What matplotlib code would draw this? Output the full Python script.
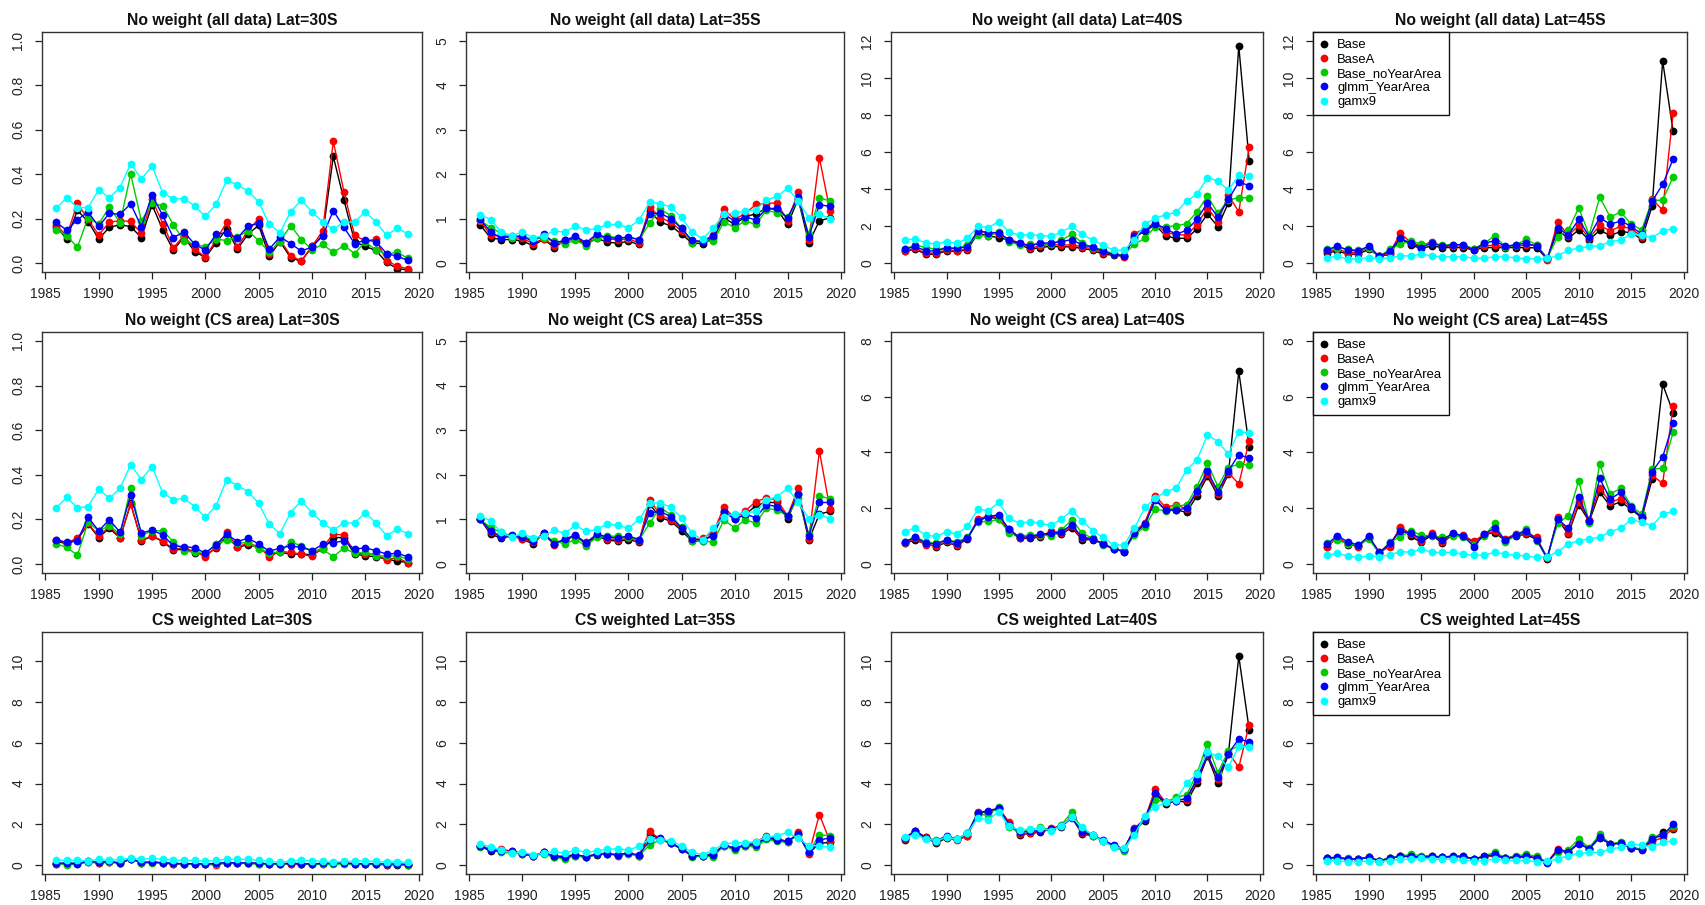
import matplotlib
matplotlib.use("Agg")
import matplotlib.pyplot as plt
from matplotlib.lines import Line2D

plt.rcParams['font.family'] = ['Liberation Sans', 'DejaVu Sans']

years = list(range(1986, 2020))
series_names = ["Base", "BaseA", "Base_noYearArea", "glmm_YearArea", "gamx9"]
series_colors = ["#000000", "#FF0000", "#00CD00", "#0000FF", "#00FFFF"]

# ---------------- Row 1: No weight (all data) ----------------
all30_base = [0.164,0.109,0.237,0.187,0.109,0.161,0.173,0.164,0.115,0.262,0.151,0.058,0.118,0.052,0.025,0.090,0.155,0.063,0.130,0.170,0.031,0.097,0.024,0.008,0.075,0.125,0.480,0.284,0.097,0.075,0.057,0.003,-0.025,-0.030]
all30_baseA = [0.172,0.122,0.269,0.197,0.127,0.185,0.190,0.188,0.134,0.287,0.178,0.069,0.124,0.063,0.028,0.103,0.184,0.073,0.145,0.200,0.040,0.106,0.033,0.010,0.075,0.145,0.548,0.321,0.125,0.100,0.107,0.009,-0.012,-0.027]
all30_noYA = [0.151,0.122,0.072,0.204,0.176,0.252,0.182,0.400,0.190,0.269,0.258,0.173,0.100,0.085,0.073,0.109,0.101,0.118,0.145,0.101,0.049,0.097,0.169,0.106,0.061,0.084,0.048,0.079,0.043,0.097,0.058,0.040,0.049,0.021]
all30_glmm = [0.184,0.148,0.195,0.230,0.165,0.224,0.220,0.267,0.163,0.306,0.215,0.115,0.140,0.085,0.058,0.130,0.137,0.112,0.167,0.179,0.063,0.118,0.088,0.054,0.073,0.122,0.236,0.161,0.088,0.104,0.097,0.043,0.031,0.012]
all30_gam = [0.246,0.294,0.250,0.250,0.330,0.294,0.340,0.448,0.378,0.437,0.316,0.290,0.290,0.257,0.210,0.264,0.373,0.352,0.325,0.275,0.175,0.137,0.231,0.284,0.231,0.185,0.152,0.185,0.185,0.231,0.185,0.125,0.157,0.131]

all35_base = [0.86,0.57,0.53,0.53,0.50,0.39,0.54,0.35,0.51,0.54,0.43,0.56,0.47,0.45,0.49,0.42,1.17,0.92,0.84,0.65,0.45,0.44,0.56,1.02,0.87,1.04,1.11,1.23,1.21,0.87,1.44,0.46,0.95,1.02]
all35_baseA = [0.95,0.63,0.60,0.57,0.56,0.44,0.55,0.39,0.52,0.57,0.45,0.63,0.54,0.53,0.54,0.46,1.27,1.02,0.92,0.72,0.49,0.50,0.63,1.21,0.99,1.11,1.32,1.34,1.36,0.95,1.60,0.51,2.37,1.17]
all35_noYA = [0.96,0.80,0.67,0.57,0.60,0.54,0.57,0.49,0.42,0.52,0.39,0.57,0.61,0.57,0.57,0.53,0.90,1.21,1.07,0.78,0.46,0.50,0.49,0.93,0.80,0.95,0.87,1.19,1.13,1.04,1.42,0.65,1.47,1.40]
all35_glmm = [0.99,0.70,0.57,0.61,0.60,0.49,0.65,0.46,0.51,0.61,0.46,0.65,0.57,0.56,0.59,0.53,1.11,1.12,1.00,0.78,0.51,0.48,0.60,1.10,0.95,1.04,0.97,1.23,1.23,1.02,1.49,0.59,1.31,1.28]
all35_gam = [1.09,0.98,0.70,0.62,0.70,0.57,0.61,0.73,0.69,0.84,0.74,0.78,0.87,0.87,0.79,0.97,1.37,1.34,1.26,1.03,0.69,0.55,0.79,1.10,1.13,1.17,1.20,1.42,1.50,1.68,1.40,1.02,1.10,1.00]

all40_base = [0.63,0.75,0.48,0.48,0.66,0.63,0.72,1.61,1.47,1.38,1.24,1.02,0.75,0.84,0.91,0.88,0.88,0.79,0.70,0.48,0.43,0.38,1.38,1.74,2.06,1.47,1.34,1.34,1.85,2.65,1.97,3.26,11.72,5.50]
all40_baseA = [0.65,0.79,0.54,0.54,0.72,0.68,0.75,1.77,1.61,1.56,1.27,1.11,0.81,0.93,1.02,0.97,0.99,0.88,0.77,0.56,0.48,0.34,1.58,1.88,2.17,1.65,1.56,1.50,2.08,2.99,2.24,3.67,2.78,6.27]
all40_noYA = [0.75,0.99,0.84,0.75,0.82,0.81,0.97,1.50,1.47,1.70,1.15,0.97,1.04,1.04,1.02,1.24,1.56,1.09,0.84,0.73,0.48,0.45,1.02,1.34,1.97,1.97,2.01,2.13,2.78,3.62,2.69,3.41,3.53,3.53]
all40_glmm = [0.75,0.90,0.66,0.66,0.82,0.79,0.88,1.74,1.65,1.65,1.24,1.08,0.93,1.08,1.09,1.16,1.27,0.97,0.88,0.63,0.48,0.39,1.47,1.77,2.13,1.86,1.56,1.77,2.37,3.24,2.49,3.44,4.37,4.19]
all40_gam = [1.24,1.31,1.09,1.04,1.16,1.08,1.34,1.99,1.92,2.24,1.68,1.50,1.54,1.49,1.45,1.67,1.99,1.56,1.24,0.97,0.70,0.70,1.25,2.10,2.42,2.62,2.74,3.35,3.73,4.62,4.43,3.94,4.75,4.68]

all45_base = [0.54,0.66,0.48,0.48,0.75,0.36,0.48,1.34,0.97,0.79,0.93,0.84,0.84,0.84,0.70,0.84,0.84,0.84,0.84,0.84,0.82,0.21,1.79,1.34,1.79,1.25,1.77,1.50,1.70,1.65,1.29,3.08,10.91,7.11]
all45_baseA = [0.63,0.75,0.57,0.57,0.84,0.36,0.56,1.61,1.11,0.93,1.16,0.90,0.93,0.93,0.75,0.93,0.97,0.88,0.93,0.97,0.97,0.16,2.24,1.47,2.04,1.34,2.04,1.74,1.99,1.86,1.43,3.47,2.85,8.10]
all45_noYA = [0.75,0.82,0.75,0.70,0.82,0.36,0.75,1.02,1.20,1.02,1.06,0.97,0.99,0.99,0.77,1.08,1.47,0.88,0.97,1.29,0.97,0.27,1.42,1.77,2.99,1.52,3.56,2.49,2.76,2.10,1.79,3.39,3.40,4.66]
all45_glmm = [0.70,0.93,0.70,0.66,0.93,0.36,0.66,1.33,1.08,0.84,1.08,0.90,1.00,1.00,0.70,1.08,1.20,0.90,1.00,1.08,0.90,0.25,1.92,1.50,2.36,1.43,2.45,2.10,2.27,1.99,1.56,3.35,4.25,5.62]
all45_gam = [0.30,0.36,0.23,0.23,0.30,0.23,0.30,0.39,0.39,0.48,0.39,0.34,0.34,0.34,0.27,0.27,0.34,0.34,0.29,0.23,0.23,0.25,0.39,0.70,0.81,0.90,0.93,1.16,1.25,1.56,1.50,1.38,1.74,1.86]

# ---------------- Row 2: No weight (CS area) ----------------
cs30_base = [0.104,0.090,0.110,0.179,0.119,0.161,0.116,0.272,0.104,0.125,0.101,0.063,0.067,0.051,0.042,0.070,0.124,0.075,0.087,0.075,0.042,0.052,0.045,0.045,0.042,0.067,0.119,0.119,0.045,0.037,0.033,0.022,0.013,0.007]
cs30_baseA = [0.107,0.096,0.116,0.182,0.124,0.169,0.119,0.269,0.107,0.127,0.104,0.067,0.072,0.057,0.033,0.075,0.142,0.078,0.093,0.078,0.033,0.057,0.052,0.045,0.034,0.075,0.134,0.131,0.052,0.045,0.045,0.018,0.030,0.004]
cs30_noYA = [0.090,0.075,0.040,0.187,0.149,0.172,0.134,0.342,0.127,0.149,0.149,0.101,0.060,0.052,0.048,0.090,0.107,0.093,0.097,0.066,0.051,0.054,0.100,0.081,0.060,0.067,0.033,0.072,0.048,0.052,0.037,0.036,0.037,0.022]
cs30_glmm = [0.110,0.097,0.104,0.209,0.149,0.199,0.142,0.310,0.139,0.152,0.131,0.082,0.078,0.073,0.049,0.087,0.134,0.101,0.116,0.090,0.057,0.072,0.081,0.075,0.060,0.088,0.096,0.104,0.067,0.073,0.060,0.045,0.048,0.033]
cs30_gam = [0.251,0.299,0.251,0.258,0.336,0.294,0.340,0.446,0.379,0.437,0.319,0.288,0.294,0.258,0.209,0.261,0.379,0.352,0.325,0.273,0.178,0.137,0.231,0.284,0.231,0.184,0.152,0.184,0.184,0.230,0.184,0.127,0.157,0.136]

cs35_base = [1.01,0.67,0.58,0.63,0.56,0.45,0.69,0.46,0.54,0.63,0.45,0.63,0.54,0.51,0.55,0.49,1.34,1.04,0.96,0.75,0.51,0.52,0.67,1.19,1.01,1.10,1.31,1.38,1.38,1.01,1.57,0.54,1.12,1.18]
cs35_baseA = [1.01,0.71,0.61,0.62,0.57,0.49,0.67,0.43,0.56,0.63,0.49,0.65,0.57,0.54,0.58,0.51,1.44,1.10,0.99,0.80,0.54,0.58,0.72,1.27,1.04,1.19,1.40,1.48,1.44,1.08,1.70,0.56,2.53,1.23]
cs35_noYA = [1.00,0.82,0.71,0.63,0.63,0.54,0.63,0.52,0.45,0.55,0.41,0.60,0.63,0.62,0.60,0.54,0.92,1.27,1.10,0.82,0.51,0.52,0.49,0.99,0.81,0.99,0.92,1.25,1.21,1.08,1.48,0.67,1.53,1.46]
cs35_glmm = [1.01,0.75,0.61,0.65,0.60,0.51,0.69,0.46,0.56,0.65,0.47,0.67,0.61,0.58,0.63,0.55,1.15,1.18,1.06,0.81,0.56,0.54,0.63,1.17,1.01,1.12,1.04,1.33,1.29,1.08,1.58,0.63,1.38,1.38]
cs35_gam = [1.08,0.97,0.71,0.60,0.69,0.58,0.63,0.76,0.69,0.87,0.73,0.78,0.90,0.87,0.80,1.00,1.37,1.37,1.27,1.03,0.69,0.54,0.81,1.06,1.13,1.14,1.18,1.44,1.51,1.70,1.38,1.02,1.11,1.02]

cs40_base = [0.75,0.86,0.72,0.63,0.78,0.66,0.90,1.55,1.70,1.61,1.19,0.92,0.92,0.98,1.11,1.07,1.31,0.87,0.88,0.72,0.54,0.45,1.11,1.41,2.33,1.93,1.95,1.85,2.45,3.14,2.45,3.22,6.91,4.21]
cs40_baseA = [0.76,0.92,0.68,0.66,0.81,0.68,0.93,1.61,1.73,1.67,1.27,0.93,0.96,1.00,1.17,1.11,1.35,0.92,0.90,0.74,0.56,0.48,1.17,1.49,2.45,2.03,2.13,1.97,2.57,3.22,2.53,3.28,2.87,4.42]
cs40_noYA = [0.80,0.98,0.80,0.74,0.87,0.80,0.96,1.52,1.53,1.60,1.13,1.01,1.04,1.04,1.01,1.22,1.59,1.11,0.92,0.69,0.54,0.48,1.04,1.34,1.97,1.91,2.07,2.13,2.78,3.62,2.78,3.46,3.58,3.55]
cs40_glmm = [0.79,0.96,0.75,0.72,0.87,0.75,0.93,1.55,1.70,1.77,1.24,0.96,0.98,1.07,1.11,1.16,1.41,0.96,0.91,0.72,0.54,0.45,1.13,1.43,2.29,1.93,1.93,2.01,2.63,3.32,2.60,3.34,3.92,3.80]
cs40_gam = [1.16,1.29,1.04,0.99,1.16,1.07,1.36,1.97,1.91,2.21,1.64,1.46,1.52,1.46,1.39,1.61,1.91,1.55,1.19,0.96,0.68,0.68,1.28,2.03,2.36,2.60,2.72,3.37,3.74,4.63,4.39,3.94,4.75,4.70]

cs45_base = [0.62,0.96,0.69,0.66,0.93,0.39,0.69,1.28,0.99,0.78,1.04,0.75,1.07,1.01,0.78,1.06,1.13,0.84,1.01,1.07,0.87,0.18,1.61,1.07,2.13,1.53,2.57,2.09,2.23,1.97,1.65,3.04,6.45,5.43]
cs45_baseA = [0.60,0.96,0.72,0.62,0.96,0.42,0.63,1.34,1.07,0.84,1.11,0.80,1.07,1.04,0.81,1.07,1.17,0.90,1.09,1.13,0.96,0.20,1.67,1.13,2.21,1.59,2.72,2.21,2.35,2.03,1.67,3.19,2.89,5.67]
cs45_noYA = [0.75,0.86,0.72,0.68,0.90,0.39,0.78,0.98,1.19,1.04,1.01,0.96,1.01,0.98,0.69,1.01,1.46,0.78,1.04,1.25,0.84,0.24,1.46,1.73,2.99,1.49,3.58,2.51,2.72,2.09,1.79,3.40,3.44,4.72]
cs45_glmm = [0.72,1.01,0.80,0.68,1.00,0.42,0.74,1.19,1.11,0.90,1.04,0.86,1.11,1.01,0.63,1.07,1.29,0.87,1.05,1.19,0.87,0.24,1.61,1.29,2.39,1.55,3.07,2.33,2.57,2.03,1.67,3.31,3.84,5.05]
cs45_gam = [0.32,0.38,0.29,0.24,0.29,0.27,0.33,0.45,0.42,0.54,0.42,0.42,0.42,0.36,0.32,0.32,0.42,0.36,0.32,0.29,0.24,0.26,0.45,0.72,0.84,0.90,0.96,1.16,1.29,1.59,1.50,1.37,1.79,1.89]

# ---------------- Row 3: CS weighted ----------------
csw30_base = [0.05,0.08,0.08,0.15,0.10,0.14,0.10,0.30,0.12,0.13,0.10,0.05,0.06,0.05,0.03,0.04,0.10,0.08,0.09,0.07,0.04,0.06,0.05,0.05,0.04,0.07,0.08,0.08,0.05,0.04,0.03,0.02,0.02,0.01]
csw30_baseA = [0.06,0.09,0.09,0.18,0.11,0.17,0.11,0.29,0.12,0.14,0.11,0.06,0.07,0.06,0.03,0.02,0.12,0.09,0.10,0.08,0.04,0.06,0.06,0.05,0.04,0.08,0.10,0.10,0.06,0.05,0.04,0.02,0.03,0.01]
csw30_noYA = [0.08,0.02,0.03,0.17,0.13,0.16,0.12,0.32,0.12,0.10,0.12,0.08,0.05,0.04,0.04,0.07,0.09,0.08,0.08,0.03,0.04,0.03,0.09,0.07,0.05,0.03,0.03,0.06,0.04,0.05,0.03,0.03,0.03,0.02]
csw30_glmm = [0.10,0.09,0.06,0.18,0.14,0.18,0.08,0.30,0.14,0.14,0.12,0.08,0.07,0.07,0.05,0.08,0.12,0.10,0.11,0.09,0.06,0.07,0.08,0.07,0.06,0.08,0.09,0.10,0.07,0.07,0.06,0.05,0.05,0.03]
csw30_gam = [0.25,0.23,0.23,0.21,0.28,0.23,0.28,0.33,0.28,0.33,0.28,0.23,0.23,0.23,0.18,0.23,0.28,0.28,0.28,0.23,0.18,0.13,0.21,0.23,0.21,0.18,0.13,0.18,0.18,0.21,0.18,0.13,0.16,0.13]

csw35_base = [0.95,0.67,0.70,0.66,0.54,0.43,0.62,0.38,0.38,0.46,0.38,0.51,0.54,0.51,0.57,0.46,1.52,1.26,1.07,0.82,0.46,0.43,0.51,0.95,0.79,0.93,1.07,1.36,1.28,1.16,1.52,0.57,1.07,1.11]
csw35_baseA = [0.95,0.79,0.79,0.67,0.54,0.46,0.62,0.44,0.43,0.51,0.41,0.54,0.59,0.44,0.57,0.46,1.66,1.26,1.07,0.79,0.46,0.46,0.57,0.97,0.85,0.98,1.11,1.44,1.33,1.11,1.61,0.54,2.48,1.16]
csw35_noYA = [0.90,0.79,0.62,0.59,0.59,0.46,0.54,0.38,0.30,0.46,0.38,0.54,0.54,0.51,0.54,0.44,1.00,1.23,1.07,0.77,0.41,0.44,0.41,0.95,0.74,0.95,0.87,1.26,1.16,1.11,1.49,0.62,1.49,1.44]
csw35_glmm = [0.93,0.74,0.67,0.67,0.59,0.46,0.62,0.43,0.41,0.51,0.41,0.54,0.54,0.51,0.59,0.49,1.23,1.33,1.07,0.79,0.46,0.46,0.51,1.00,0.82,0.98,0.98,1.33,1.23,1.16,1.52,0.62,1.23,1.33]
csw35_gam = [1.03,0.90,0.74,0.59,0.62,0.51,0.57,0.67,0.57,0.74,0.62,0.70,0.79,0.79,0.74,0.92,1.28,1.25,1.20,0.93,0.62,0.51,0.74,1.03,1.10,1.10,1.15,1.36,1.44,1.61,1.31,0.95,0.95,0.87]

csw40_base = [1.25,1.66,1.36,1.07,1.33,1.26,1.41,2.56,2.62,2.75,2.05,1.48,1.56,1.61,1.77,1.89,2.34,1.52,1.44,1.20,0.95,0.74,1.72,2.18,3.49,3.00,3.16,3.08,4.02,5.33,4.02,5.43,10.25,6.64]
csw40_baseA = [1.26,1.69,1.36,1.13,1.36,1.23,1.43,2.62,2.62,2.80,2.10,1.52,1.57,1.66,1.80,1.92,2.38,1.57,1.48,1.20,0.95,0.79,1.80,2.26,3.74,3.07,3.20,3.21,4.18,5.41,4.23,5.52,4.80,6.89]
csw40_noYA = [1.33,1.56,1.33,1.23,1.39,1.28,1.56,2.46,2.48,2.84,1.85,1.61,1.72,1.85,1.72,1.98,2.59,1.77,1.44,1.20,0.87,0.70,1.61,2.26,3.21,3.08,3.33,3.44,4.52,5.95,4.52,5.62,5.84,5.87]
csw40_glmm = [1.33,1.69,1.33,1.16,1.44,1.26,1.56,2.57,2.67,2.79,1.98,1.61,1.66,1.69,1.77,1.92,2.30,1.64,1.46,1.23,0.98,0.79,1.77,2.26,3.54,3.08,3.16,3.28,4.23,5.43,4.31,5.46,6.20,6.03]
csw40_gam = [1.36,1.48,1.28,1.20,1.36,1.28,1.57,2.31,2.23,2.62,1.90,1.72,1.77,1.80,1.69,1.93,2.34,1.85,1.48,1.16,0.87,0.82,1.48,2.43,2.84,3.08,3.21,4.02,4.48,5.54,5.34,4.80,5.84,5.79]

csw45_base = [0.33,0.34,0.30,0.30,0.38,0.21,0.33,0.43,0.41,0.38,0.41,0.38,0.41,0.41,0.30,0.41,0.46,0.34,0.38,0.41,0.34,0.13,0.70,0.62,1.07,0.79,1.33,1.03,1.08,0.84,0.79,1.23,1.61,1.77]
csw45_baseA = [0.33,0.36,0.30,0.30,0.38,0.21,0.33,0.43,0.43,0.38,0.43,0.38,0.41,0.41,0.30,0.41,0.48,0.34,0.38,0.43,0.36,0.13,0.80,0.64,1.10,0.80,1.40,1.03,1.08,0.84,0.78,1.15,1.35,1.80]
csw45_noYA = [0.33,0.36,0.33,0.30,0.38,0.21,0.36,0.45,0.52,0.46,0.46,0.40,0.45,0.45,0.30,0.45,0.62,0.36,0.45,0.52,0.43,0.14,0.62,0.75,1.28,0.85,1.50,1.05,1.12,0.84,0.78,1.40,1.45,1.90]
csw45_glmm = [0.36,0.38,0.30,0.30,0.38,0.21,0.33,0.43,0.43,0.40,0.43,0.38,0.43,0.43,0.30,0.43,0.52,0.34,0.40,0.43,0.36,0.12,0.75,0.66,1.05,0.80,1.38,1.02,1.07,0.82,0.75,1.30,1.45,2.00]
csw45_gam = [0.21,0.21,0.16,0.16,0.21,0.16,0.21,0.28,0.28,0.34,0.28,0.28,0.28,0.23,0.21,0.21,0.30,0.23,0.23,0.23,0.16,0.18,0.30,0.46,0.57,0.62,0.62,0.79,0.87,1.03,0.98,0.90,1.11,1.20]

titles = [
    ["No weight (all data) Lat=30S", "No weight (all data) Lat=35S", "No weight (all data) Lat=40S", "No weight (all data) Lat=45S"],
    ["No weight (CS area) Lat=30S", "No weight (CS area) Lat=35S", "No weight (CS area) Lat=40S", "No weight (CS area) Lat=45S"],
    ["CS weighted Lat=30S", "CS weighted Lat=35S", "CS weighted Lat=40S", "CS weighted Lat=45S"],
]
panel_data = [
    [[all30_base, all30_baseA, all30_noYA, all30_glmm, all30_gam],
     [all35_base, all35_baseA, all35_noYA, all35_glmm, all35_gam],
     [all40_base, all40_baseA, all40_noYA, all40_glmm, all40_gam],
     [all45_base, all45_baseA, all45_noYA, all45_glmm, all45_gam]],
    [[cs30_base, cs30_baseA, cs30_noYA, cs30_glmm, cs30_gam],
     [cs35_base, cs35_baseA, cs35_noYA, cs35_glmm, cs35_gam],
     [cs40_base, cs40_baseA, cs40_noYA, cs40_glmm, cs40_gam],
     [cs45_base, cs45_baseA, cs45_noYA, cs45_glmm, cs45_gam]],
    [[csw30_base, csw30_baseA, csw30_noYA, csw30_glmm, csw30_gam],
     [csw35_base, csw35_baseA, csw35_noYA, csw35_glmm, csw35_gam],
     [csw40_base, csw40_baseA, csw40_noYA, csw40_glmm, csw40_gam],
     [csw45_base, csw45_baseA, csw45_noYA, csw45_glmm, csw45_gam]],
]
ymax = [[1, 5, 12, 12], [1, 5, 8, 8], [11, 11, 11, 11]]
ytick_sets = [
    [[0, 0.2, 0.4, 0.6, 0.8, 1.0], [0, 1, 2, 3, 4, 5], [0, 2, 4, 6, 8, 10, 12], [0, 2, 4, 6, 8, 10, 12]],
    [[0, 0.2, 0.4, 0.6, 0.8, 1.0], [0, 1, 2, 3, 4, 5], [0, 2, 4, 6, 8], [0, 2, 4, 6, 8]],
    [[0, 2, 4, 6, 8, 10]] * 4,
]
xticks = [1985, 1990, 1995, 2000, 2005, 2010, 2015, 2020]

W, H = 1706, 905
fig = plt.figure(figsize=(W / 100, H / 100), dpi=100)

col_lr = [(42, 422), (466, 844), (891, 1263), (1313, 1687)]
row_tb = [(32, 272), (332, 573), (632, 874)]

for r in range(3):
    for c in range(4):
        l, rr = col_lr[c]
        t, b = row_tb[r]
        ax = fig.add_axes([l / W, 1 - b / H, (rr - l) / W, (b - t) / H])
        for vals, col in zip(panel_data[r][c], series_colors):
            ax.plot(years, vals, '-o', color=col, lw=1.0, markersize=5.6,
                    markeredgewidth=0, clip_on=True)
        ym = ymax[r][c]
        ax.set_ylim(-0.04 * ym, 1.04 * ym)
        ax.set_xlim(1986 - 0.04 * 33, 2019 + 0.04 * 33)
        ax.set_xticks(xticks)
        ax.set_xticklabels([str(x) for x in xticks])
        yt = ytick_sets[r][c]
        ax.set_yticks(yt)
        if c == 0 and r < 2:
            ax.set_yticklabels(["%.1f" % v for v in yt])
        else:
            ax.set_yticklabels(["%d" % v for v in yt])
        ax.tick_params(axis='x', length=5, width=0.9, pad=6, labelsize=10, colors='#222222')
        ax.tick_params(axis='y', length=5, width=0.9, pad=7, labelsize=10, colors='#222222',
                       labelrotation=90)
        for lab in ax.get_yticklabels():
            lab.set_va('center')
        for s in ax.spines.values():
            s.set_linewidth(1.0)
            s.set_color('#333333')
        ax.set_title(titles[r][c], fontsize=11.3, fontweight='bold', pad=5, color='#111111')
        if c == 3:
            handles = [Line2D([], [], marker='o', linestyle='None', color=col,
                              markersize=5.6, markeredgewidth=0) for col in series_colors]
            leg = ax.legend(handles, series_names, loc='upper left', fontsize=9.4,
                            frameon=True, fancybox=False, framealpha=1,
                            edgecolor='#111111', borderaxespad=0, borderpad=0.55,
                            labelspacing=0.16, handlelength=0.6, handletextpad=0.7)
            leg.get_frame().set_linewidth(1.0)

fig.savefig("out.png", dpi=100)
